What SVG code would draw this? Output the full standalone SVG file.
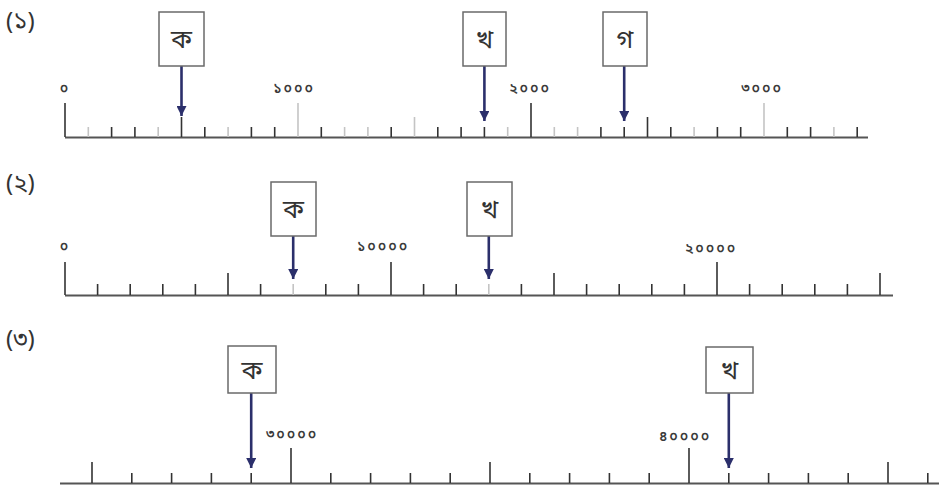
<svg xmlns="http://www.w3.org/2000/svg" width="939" height="486" viewBox="0 0 939 486">
<style>
.bg{fill:#fff}
.axis{stroke:#555;stroke-width:2;fill:none}
.t{stroke:#333;stroke-width:1.6}
.tl{stroke:#c4c4c4;stroke-width:1.6}
.box{fill:#fff;stroke:#6a6a6a;stroke-width:1.5}
.arr{stroke:#2b2f6b;stroke-width:2.6;fill:none}
.lab{font-family:"Noto Sans Bengali","Noto Serif Bengali","Lohit Bengali","FreeSans",sans-serif;fill:#333}
.num{font-size:14px;letter-spacing:2px;text-anchor:middle;font-weight:600;fill:#3a3a3a}
.sec{font-size:24px}
.let{font-size:26px;text-anchor:middle}
</style>
<defs>
<marker id="ah" markerUnits="userSpaceOnUse" markerWidth="10" markerHeight="10" refX="10" refY="5" orient="auto" viewBox="0 0 10 10">
<path d="M0,0 L10,5 L0,10 Z" fill="#2b2f6b"/>
</marker>
</defs>
<rect class="bg" width="939" height="486"/>

<g id="ruler1">
<text class="lab sec" x="6" y="29">(১)</text>
<line class="axis" x1="65" y1="137.5" x2="868" y2="137.5"/>
<g id="ticks1">
<line class="t" x1="65" y1="103" x2="65" y2="137"/>
<line class="tl" x1="88.3" y1="127" x2="88.3" y2="137"/>
<line class="t" x1="111.6" y1="127" x2="111.6" y2="137"/>
<line class="t" x1="134.9" y1="127" x2="134.9" y2="137"/>
<line class="tl" x1="158.2" y1="127" x2="158.2" y2="137"/>
<line class="t" x1="181.5" y1="117" x2="181.5" y2="137"/>
<line class="t" x1="204.8" y1="127" x2="204.8" y2="137"/>
<line class="tl" x1="228.1" y1="127" x2="228.1" y2="137"/>
<line class="t" x1="251.4" y1="127" x2="251.4" y2="137"/>
<line class="t" x1="274.7" y1="127" x2="274.7" y2="137"/>
<line class="tl" x1="298" y1="103" x2="298" y2="137"/>
<line class="t" x1="321.3" y1="127" x2="321.3" y2="137"/>
<line class="tl" x1="344.6" y1="127" x2="344.6" y2="137"/>
<line class="tl" x1="367.9" y1="127" x2="367.9" y2="137"/>
<line class="t" x1="391.2" y1="127" x2="391.2" y2="137"/>
<line class="tl" x1="414.5" y1="117" x2="414.5" y2="137"/>
<line class="t" x1="437.8" y1="127" x2="437.8" y2="137"/>
<line class="t" x1="461.1" y1="127" x2="461.1" y2="137"/>
<line class="t" x1="484.4" y1="127" x2="484.4" y2="137"/>
<line class="tl" x1="507.7" y1="127" x2="507.7" y2="137"/>
<line class="t" x1="531" y1="103" x2="531" y2="137"/>
<line class="tl" x1="554.3" y1="127" x2="554.3" y2="137"/>
<line class="tl" x1="577.6" y1="127" x2="577.6" y2="137"/>
<line class="t" x1="600.9" y1="127" x2="600.9" y2="137"/>
<line class="t" x1="624.2" y1="127" x2="624.2" y2="137"/>
<line class="t" x1="647.5" y1="117" x2="647.5" y2="137"/>
<line class="t" x1="670.8" y1="127" x2="670.8" y2="137"/>
<line class="tl" x1="694.1" y1="127" x2="694.1" y2="137"/>
<line class="t" x1="717.4" y1="127" x2="717.4" y2="137"/>
<line class="t" x1="740.7" y1="127" x2="740.7" y2="137"/>
<line class="tl" x1="764" y1="103" x2="764" y2="137"/>
<line class="t" x1="787.3" y1="127" x2="787.3" y2="137"/>
<line class="t" x1="810.6" y1="127" x2="810.6" y2="137"/>
<line class="tl" x1="833.9" y1="127" x2="833.9" y2="137"/>
<line class="t" x1="857.2" y1="127" x2="857.2" y2="137"/>
</g>
<text class="lab num" x="65" y="93">০</text>
<text class="lab num" x="294" y="93">১০০০</text>
<text class="lab num" x="530" y="93">২০০০</text>
<text class="lab num" x="762" y="93">৩০০০</text>
</g>

<g id="ruler2">
<text class="lab sec" x="6" y="191">(২)</text>
<line class="axis" x1="65" y1="295.5" x2="893" y2="295.5"/>
<g id="ticks2">
<line class="t" x1="65" y1="262" x2="65" y2="295"/>
<line class="t" x1="97.6" y1="284" x2="97.6" y2="295"/>
<line class="t" x1="130.2" y1="284" x2="130.2" y2="295"/>
<line class="t" x1="162.8" y1="284" x2="162.8" y2="295"/>
<line class="t" x1="195.4" y1="284" x2="195.4" y2="295"/>
<line class="t" x1="228" y1="273" x2="228" y2="295"/>
<line class="t" x1="260.6" y1="284" x2="260.6" y2="295"/>
<line class="tl" x1="293.2" y1="284" x2="293.2" y2="295"/>
<line class="t" x1="325.8" y1="284" x2="325.8" y2="295"/>
<line class="t" x1="358.4" y1="284" x2="358.4" y2="295"/>
<line class="t" x1="391" y1="262" x2="391" y2="295"/>
<line class="t" x1="423.6" y1="284" x2="423.6" y2="295"/>
<line class="t" x1="456.2" y1="284" x2="456.2" y2="295"/>
<line class="tl" x1="488.8" y1="284" x2="488.8" y2="295"/>
<line class="t" x1="521.4" y1="284" x2="521.4" y2="295"/>
<line class="t" x1="554" y1="273" x2="554" y2="295"/>
<line class="t" x1="586.6" y1="284" x2="586.6" y2="295"/>
<line class="t" x1="619.2" y1="284" x2="619.2" y2="295"/>
<line class="t" x1="651.8" y1="284" x2="651.8" y2="295"/>
<line class="t" x1="684.4" y1="284" x2="684.4" y2="295"/>
<line class="t" x1="717" y1="262" x2="717" y2="295"/>
<line class="t" x1="749.6" y1="284" x2="749.6" y2="295"/>
<line class="t" x1="782.2" y1="284" x2="782.2" y2="295"/>
<line class="t" x1="814.8" y1="284" x2="814.8" y2="295"/>
<line class="t" x1="847.4" y1="284" x2="847.4" y2="295"/>
<line class="t" x1="880" y1="273" x2="880" y2="295"/>
</g>
<text class="lab num" x="65" y="251">০</text>
<text class="lab num" x="383" y="251">১০০০০</text>
<text class="lab num" x="711" y="253">২০০০০</text>
</g>

<g id="ruler3">
<text class="lab sec" x="6" y="347">(৩)</text>
<line class="axis" x1="60" y1="483.5" x2="939" y2="483.5"/>
<g id="ticks3">
<line class="t" x1="92" y1="462" x2="92" y2="483"/>
<line class="t" x1="131.8" y1="473" x2="131.8" y2="483"/>
<line class="t" x1="171.6" y1="473" x2="171.6" y2="483"/>
<line class="t" x1="211.4" y1="473" x2="211.4" y2="483"/>
<line class="t" x1="251.2" y1="473" x2="251.2" y2="483"/>
<line class="t" x1="291" y1="448" x2="291" y2="483"/>
<line class="t" x1="330.8" y1="473" x2="330.8" y2="483"/>
<line class="t" x1="370.6" y1="473" x2="370.6" y2="483"/>
<line class="t" x1="410.4" y1="473" x2="410.4" y2="483"/>
<line class="t" x1="450.2" y1="473" x2="450.2" y2="483"/>
<line class="t" x1="490" y1="462" x2="490" y2="483"/>
<line class="t" x1="529.8" y1="473" x2="529.8" y2="483"/>
<line class="t" x1="569.6" y1="473" x2="569.6" y2="483"/>
<line class="t" x1="609.4" y1="473" x2="609.4" y2="483"/>
<line class="t" x1="649.2" y1="473" x2="649.2" y2="483"/>
<line class="t" x1="689" y1="448" x2="689" y2="483"/>
<line class="t" x1="728.8" y1="473" x2="728.8" y2="483"/>
<line class="t" x1="768.6" y1="473" x2="768.6" y2="483"/>
<line class="t" x1="808.4" y1="473" x2="808.4" y2="483"/>
<line class="t" x1="848.2" y1="473" x2="848.2" y2="483"/>
<line class="t" x1="888" y1="462" x2="888" y2="483"/>
<line class="t" x1="927.8" y1="473" x2="927.8" y2="483"/>
</g>
<text class="lab num" x="292" y="439">৩০০০০</text>
<text class="lab num" x="685" y="441">৪০০০০</text>
</g>

<g id="connectors">
<line class="arr" x1="181.5" y1="66" x2="181.5" y2="116" marker-end="url(#ah)"/>
<line class="arr" x1="484.4" y1="66" x2="484.4" y2="121" marker-end="url(#ah)"/>
<line class="arr" x1="624.2" y1="66" x2="624.2" y2="121" marker-end="url(#ah)"/>
<line class="arr" x1="293.2" y1="236" x2="293.2" y2="279" marker-end="url(#ah)"/>
<line class="arr" x1="488.8" y1="236" x2="488.8" y2="279" marker-end="url(#ah)"/>
<line class="arr" x1="251.2" y1="393" x2="251.2" y2="468" marker-end="url(#ah)"/>
<line class="arr" x1="728.8" y1="393" x2="728.8" y2="468" marker-end="url(#ah)"/>
</g>

<g id="box1ka"><rect class="box" x="159" y="12" width="45" height="54"/><text class="lab let" x="181.5" y="48">ক</text></g>
<g id="box1kha"><rect class="box" x="463" y="12" width="43" height="54"/><text class="lab let" x="484.5" y="48">খ</text></g>
<g id="box1ga"><rect class="box" x="603" y="12" width="44" height="54"/><text class="lab let" x="625" y="48">গ</text></g>
<g id="box2ka"><rect class="box" x="271" y="182" width="45" height="54"/><text class="lab let" x="293.5" y="218">ক</text></g>
<g id="box2kha"><rect class="box" x="467" y="182" width="45" height="54"/><text class="lab let" x="489.5" y="218">খ</text></g>
<g id="box3ka"><rect class="box" x="228" y="346" width="48" height="47"/><text class="lab let" x="252" y="379">ক</text></g>
<g id="box3kha"><rect class="box" x="706" y="347" width="47" height="46"/><text class="lab let" x="729.5" y="379">খ</text></g>
</svg>
